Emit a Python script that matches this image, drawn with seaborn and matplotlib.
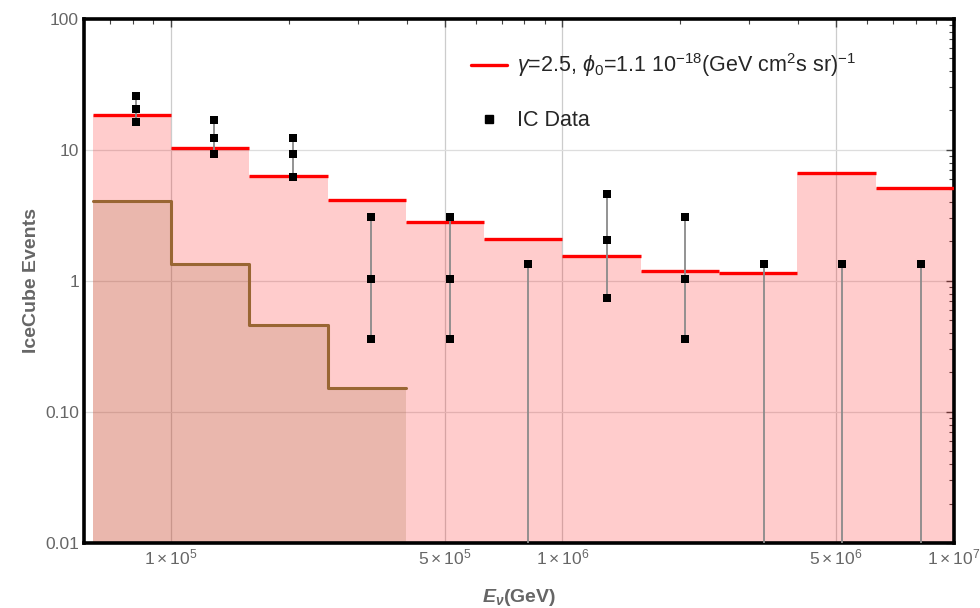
import numpy as np
import pandas as pd
import matplotlib
matplotlib.use("Agg")
import matplotlib.pyplot as plt
import matplotlib.ticker as mticker
from matplotlib.lines import Line2D
import seaborn as sns

# ---------------- data ----------------
bin_edges = [6.31e4, 1.0e5, 1.585e5, 2.512e5, 3.981e5, 6.31e5, 1.0e6,
             1.585e6, 2.512e6, 3.981e6, 6.31e6, 1.0e7]
model_events = [18.5, 10.4, 6.3, 4.15, 2.82, 2.09, 1.55, 1.19, 1.15, 6.67, 5.13]
bkg_edges = [6.31e4, 1.0e5, 1.585e5, 2.512e5, 3.981e5]
bkg_events = [4.08, 1.35, 0.46, 0.152]

data_E = [8.13e4, 1.29e5, 2.05e5, 3.24e5, 5.16e5, 8.18e5, 1.30e6, 2.06e6,
          3.27e6, 5.18e6, 8.24e6]
data_center = [20.6, 12.4, 9.3, 1.04, 1.04, np.nan, 2.06, 1.04, np.nan, np.nan, np.nan]
data_upper = [25.8, 16.9, 12.4, 3.08, 3.08, 1.35, 4.64, 3.08, 1.35, 1.35, 1.35]
data_lower = [16.4, 9.3, 6.2, 0.36, 0.36, 0.0, 0.74, 0.36, 0.0, 0.0, 0.0]

x_ticks = [1e5, 5e5, 1e6, 5e6, 1e7]
x_ticklabels = [r'$1\times10^{5}$', r'$5\times10^{5}$', r'$1\times10^{6}$',
                r'$5\times10^{6}$', r'$1\times10^{7}$']
y_ticks = [0.01, 0.1, 1, 10, 100]
y_ticklabels = ['0.01', '0.10', '1', '10', '100']

legend_model = r'$\gamma$=2.5, $\phi_0$=1.1 10$^{-18}$(GeV cm$^2$s sr)$^{-1}$'
legend_data = 'IC Data'

# ---------------- style ----------------
sns.set_theme(style="white")
plt.rcParams['font.family'] = ['Liberation Sans', 'DejaVu Sans']
plt.rcParams['mathtext.fontset'] = 'custom'
plt.rcParams['mathtext.rm'] = 'Liberation Sans'
plt.rcParams['mathtext.it'] = 'Liberation Sans:italic'
plt.rcParams['mathtext.bf'] = 'Liberation Sans:bold'
plt.rcParams['mathtext.bfit'] = 'Liberation Sans:bold:italic'

GRAY_TXT = '#666666'
RED = '#ff0000'
BROWN = '#996633'

fig = plt.figure(figsize=(9.8, 6.08), dpi=100)
ax = fig.add_axes([0.0857, 0.107, 0.8878, 0.862])
ax.set_xscale('log')
ax.set_yscale('log')
ax.set_xlim(6e4, 1e7)
ax.set_ylim(0.01, 100)

# grid
for gx in [1e5, 5e5, 1e6, 5e6]:
    ax.axvline(gx, color='#cccccc', lw=0.9, zorder=0)
for gy in [0.1, 1, 10]:
    ax.axhline(gy, color='#dddddd', lw=0.9, zorder=0)

# step data frames
model_df = pd.DataFrame({'E': bin_edges, 'N': model_events + [model_events[-1]]})
bkg_df = pd.DataFrame({'E': bkg_edges, 'N': bkg_events + [bkg_events[-1]]})

ybot = ax.get_ylim()[0]
ax.fill_between(model_df['E'], model_df['N'], ybot, step='post',
                color=RED, alpha=0.2, lw=0, zorder=1)
ax.fill_between(bkg_df['E'], bkg_df['N'], ybot, step='post',
                color=BROWN, alpha=0.2, lw=0, zorder=1.1)

# model: horizontal red segments only
for i, v in enumerate(model_events):
    ax.plot([bin_edges[i], bin_edges[i + 1]], [v, v], color=RED, lw=2.4,
            solid_capstyle='butt', zorder=3)

sns.lineplot(data=bkg_df, x='E', y='N', drawstyle='steps-post', color=BROWN,
             lw=2.2, ax=ax, zorder=3, estimator=None, sort=False)

# error bars
lows = [l if l > 0 else ybot for l in data_lower]
ax.vlines(data_E, lows, data_upper, color='#8a8a8a', lw=1.3, zorder=4)

pts = pd.DataFrame({
    'E': data_E * 3,
    'N': data_center + data_upper + [l if l > 0 else np.nan for l in data_lower],
}).dropna()
sns.scatterplot(data=pts, x='E', y='N', marker='s', s=36, color='black',
                edgecolor='black', linewidth=0, ax=ax, zorder=5)

# ticks
ax.xaxis.set_major_locator(mticker.FixedLocator(x_ticks))
ax.xaxis.set_major_formatter(mticker.FixedFormatter(x_ticklabels))
ax.xaxis.set_minor_locator(mticker.LogLocator(base=10, subs=np.arange(2, 10)))
ax.xaxis.set_minor_formatter(mticker.NullFormatter())
ax.yaxis.set_major_locator(mticker.FixedLocator(y_ticks))
ax.yaxis.set_major_formatter(mticker.FixedFormatter(y_ticklabels))
ax.yaxis.set_minor_locator(mticker.LogLocator(base=10, subs=np.arange(2, 10)))
ax.yaxis.set_minor_formatter(mticker.NullFormatter())
ax.tick_params(which='both', direction='in', top=True, right=True,
               colors='#444444', labelcolor=GRAY_TXT, labelsize=12.5)
ax.tick_params(which='major', length=6, width=1)
ax.tick_params(which='minor', length=3.5, width=0.8)

for sp in ax.spines.values():
    sp.set_visible(True)
    sp.set_color('black')
    sp.set_linewidth(2.6)

ax.set_xlabel(r'$\mathbfit{E_{\nu}}$(GeV)', fontsize=14, fontweight='bold',
              color=GRAY_TXT, labelpad=14)
ax.set_ylabel('IceCube Events', fontsize=14, fontweight='bold',
              color=GRAY_TXT, labelpad=4)

handles = [Line2D([], [], color=RED, lw=2.4),
           Line2D([], [], color='black', marker='s', ms=6, lw=0)]
ax.legend(handles, [legend_model, legend_data], loc='upper left',
          bbox_to_anchor=(0.423, 0.975), frameon=False, fontsize=15.5,
          labelspacing=1.45, handlelength=1.65, handletextpad=0.47)

fig.savefig('out.png', dpi=100)
